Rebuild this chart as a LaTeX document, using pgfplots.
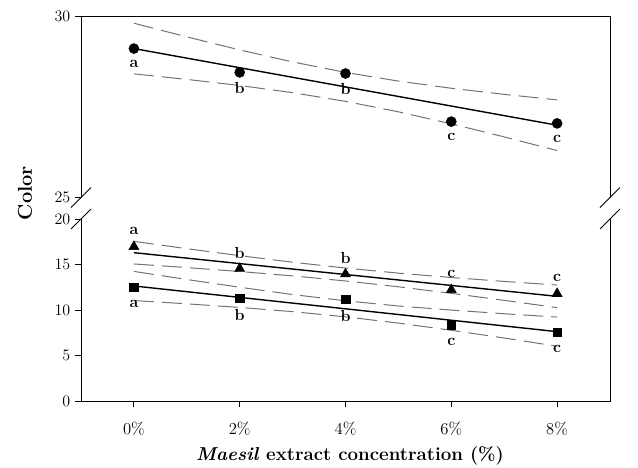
\documentclass[border=0pt]{standalone}
\usepackage{pgfplots}
\pgfplotsset{compat=1.18}
\usetikzlibrary{calc}
\tikzset{brk/.style={black, line width=0.7pt}}
\begin{document}
\begin{tikzpicture}
\useasboundingbox (0pt,0pt) rectangle (478.5pt,350.25pt);
\pgfplotsset{
 base/.style={scale only axis, width=396.75pt, xmin=-0.5, xmax=4.5, clip=false,
   axis line style={draw=none}, tick align=outside, ytick pos=left,
   major tick length=4.5pt, tick style={black, line width=0.7pt},
   ticklabel style={font=\fontsize{12.5}{14}\selectfont},
   },
 band/.style={black!55, line width=0.75pt, dash pattern=on 15pt off 6pt},
 fit/.style={black, line width=1.05pt},
 lab/.style={nodes near coords, point meta=explicit symbolic,
   every node near coord/.append style={font=\fontsize{12}{14}\selectfont\bfseries, anchor=center, text=black, yshift=#1}},
}
% ---------------- top panel ----------------
\begin{axis}[base, at={(60.75pt,202.1pt)}, anchor=south west, height=135.6pt, ymin=25, ymax=30, ytick={25,30}, xtick=\empty]
\draw[line width=0.75pt] (rel axis cs:0,0) -- (rel axis cs:0,1) -- (rel axis cs:1,1) -- (rel axis cs:1,0);
\draw[brk] ($(rel axis cs:0,0)+(-7.5pt,-7.5pt)$) -- ($(rel axis cs:0,0)+(7.5pt,7.5pt)$);
\draw[brk] ($(rel axis cs:1,0)+(-7.5pt,-7.5pt)$) -- ($(rel axis cs:1,0)+(7.5pt,7.5pt)$);
\addplot[band] coordinates {(0,29.82) (0.5,29.443) (1,29.082) (1.5,28.75) (2,28.46) (2.5,28.22) (3,28.022) (3.5,27.853) (4,27.70)};
\addplot[band] coordinates {(0,28.42) (0.5,28.267) (1,28.098) (1.5,27.90) (2,27.66) (2.5,27.37) (3,27.038) (3.5,26.677) (4,26.30)};
\addplot[fit] coordinates {(0,29.12) (4,27.00)};
\addplot[only marks, mark=*, mark size=3.75pt, mark options={fill=black,draw=black}, lab=-11.5pt] table[meta=lab] {
x y lab
0 29.12 a
1 28.46 b
2 28.43 b
3 27.10 c
4 27.05 c
};
\end{axis}
% ---------------- bottom panel ----------------
\begin{axis}[base, at={(60.75pt,49.5pt)}, anchor=south west, height=136.5pt, ymin=0, ymax=20, ytick={0,5,10,15,20},
  xtick={0,1,2,3,4}, xticklabels={0\%,2\%,4\%,6\%,8\%}, xtick pos=bottom,
  xticklabel style={yshift=-8pt}]
\draw[line width=0.75pt] (rel axis cs:0,1) -- (rel axis cs:0,0) -- (rel axis cs:1,0) -- (rel axis cs:1,1);
\draw[brk] ($(rel axis cs:0,1)+(-7.5pt,-7.5pt)$) -- ($(rel axis cs:0,1)+(7.5pt,7.5pt)$);
\draw[brk] ($(rel axis cs:1,1)+(-7.5pt,-7.5pt)$) -- ($(rel axis cs:1,1)+(7.5pt,7.5pt)$);
% triangles
\addplot[band] coordinates {(0,17.54) (0.5,16.74) (1,15.97) (1.5,15.25) (2,14.61) (2.5,14.05) (3,13.57) (3.5,13.14) (4,12.74)};
\addplot[band] coordinates {(0,15.06) (0.5,14.66) (1,14.23) (1.5,13.75) (2,13.19) (2.5,12.55) (3,11.83) (3.5,11.06) (4,10.26)};
\addplot[fit] coordinates {(0,16.30) (4,11.50)};
% squares
\addplot[band] coordinates {(0,14.24) (0.5,13.35) (1,12.50) (1.5,11.70) (2,11.01) (2.5,10.44) (3,9.99) (3.5,9.59) (4,9.22)};
\addplot[band] coordinates {(0,11.04) (0.5,10.68) (1,10.28) (1.5,9.82) (2,9.25) (2.5,8.56) (3,7.77) (3.5,6.92) (4,6.02)};
\addplot[fit] coordinates {(0,12.64) (4,7.62)};
\addplot[only marks, mark=triangle*, mark size=4.3pt, mark options={fill=black,draw=black}, lab=12pt] table[meta=lab] {
x y lab
0 16.96 a
1 14.55 b
2 13.95 b
3 12.22 c
4 11.80 c
};
\addplot[only marks, mark=square*, mark size=3.2pt, mark options={fill=black,draw=black}, lab=-12.5pt] table[meta=lab] {
x y lab
0 12.49 a
1 11.27 b
2 11.20 b
3 8.35 c
4 7.55 c
};
\end{axis}
\node[rotate=90, font=\fontsize{15}{17}\selectfont\bfseries] at (18.75pt,205.5pt) {Color};
\node[anchor=base, font=\fontsize{14}{16}\selectfont\bfseries] at (262.5pt,4.8pt) {\textit{Maesil} extract concentration (\%)};
\end{tikzpicture}
\end{document}
